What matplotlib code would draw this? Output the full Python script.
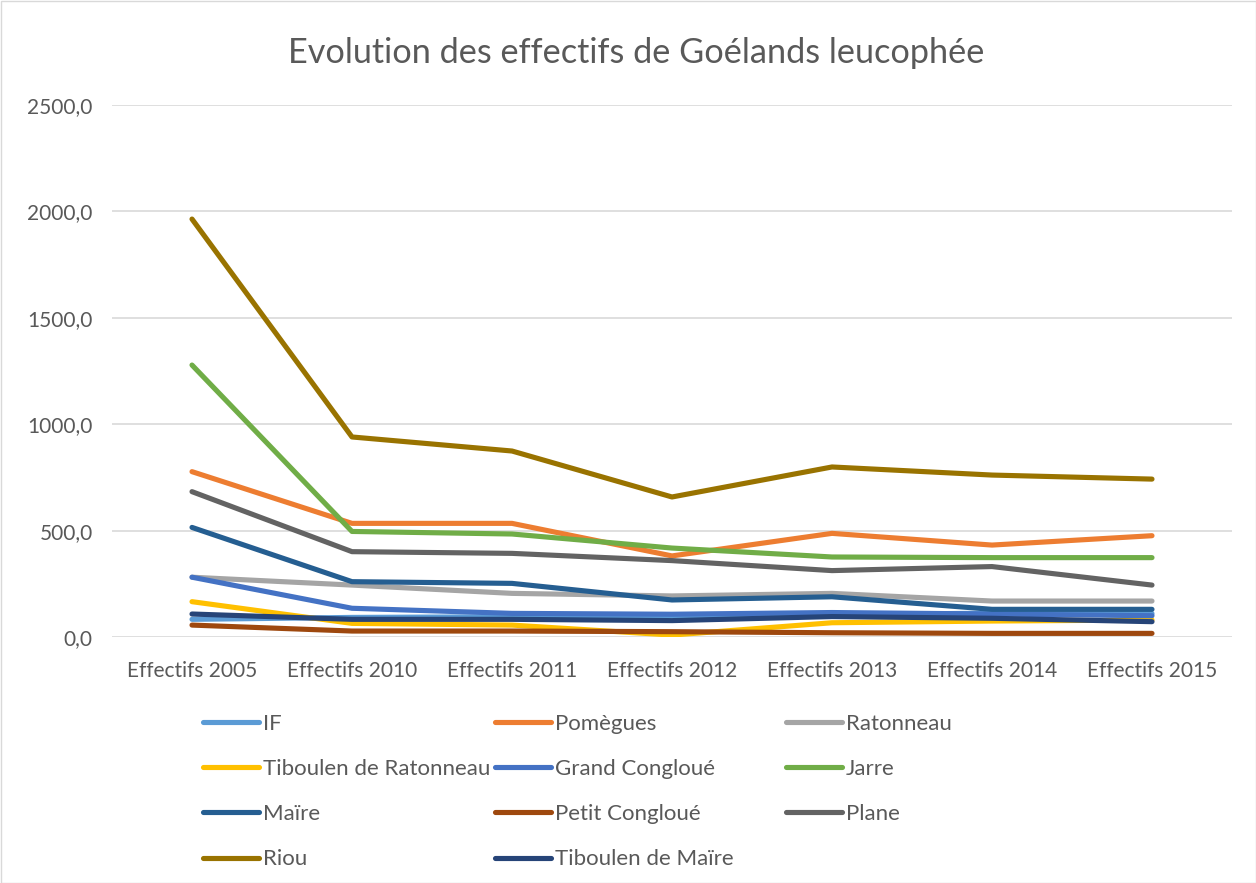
import matplotlib
matplotlib.use("Agg")
import matplotlib.pyplot as plt
from matplotlib.patches import Rectangle

categories = ["Effectifs 2005", "Effectifs 2010", "Effectifs 2011", "Effectifs 2012",
              "Effectifs 2013", "Effectifs 2014", "Effectifs 2015"]

series_names = ["IF", "Pomègues", "Ratonneau", "Tiboulen de Ratonneau", "Grand Congloué",
                "Jarre", "Maïre", "Petit Congloué", "Plane", "Riou", "Tiboulen de Maïre"]

IF = [83, 92, 95, 100, 105, 112, 110]
pomegues = [777, 534, 534, 381, 487, 432, 476]
ratonneau = [281, 244, 205, 193, 205, 169, 169]
tiboulen_ratonneau = [166, 64, 56, 9, 67, 75, 80]
grand_congloue = [281, 135, 111, 107, 115, 108, 100]
jarre = [1278, 496, 484, 418, 376, 373, 373]
maire = [515, 260, 252, 174, 189, 130, 130]
petit_congloue = [56, 28, 28, 25, 20, 17, 17]
plane = [683, 401, 393, 359, 312, 331, 244]
riou = [1964, 940, 874, 658, 799, 761, 742]
tiboulen_maire = [108, 83, 83, 77, 96, 88, 72]

values = [IF, pomegues, ratonneau, tiboulen_ratonneau, grand_congloue, jarre, maire,
          petit_congloue, plane, riou, tiboulen_maire]

colors = ["#5B9BD5", "#ED7D31", "#A5A5A5", "#FFC000", "#4472C4", "#70AD47",
          "#255E91", "#9E480E", "#636363", "#997300", "#264478"]

yticks = [0, 500, 1000, 1500, 2000, 2500]

plt.rcParams['font.family'] = ['Lato', 'DejaVu Sans']

W, H = 1256, 883
fig = plt.figure(figsize=(W / 100, H / 100), dpi=100)
ax = fig.add_axes([112 / W, 1 - 637 / H, (1232 - 112) / W, (637 - 105) / H])

xs = list(range(len(categories)))
handles = []
for name, vals, c in zip(series_names, values, colors):
    h, = ax.plot(xs, vals, color=c, lw=3.7, solid_capstyle='round',
                 solid_joinstyle='round', label=name)
    handles.append(h)

ax.set_xlim(-0.5, len(categories) - 0.5)
ax.set_ylim(0, 2500)
ax.set_yticks(yticks)
ax.set_yticklabels([f"{v:.1f}".replace('.', ',') for v in yticks])
ax.set_xticks(xs)
ax.set_xticklabels(categories)
ax.tick_params(axis='both', length=0, labelsize=15, labelcolor='#595959')
ax.tick_params(axis='y', pad=14)
ax.tick_params(axis='x', pad=17)
ax.grid(axis='y', color='#D9D9D9', lw=1.2)
ax.set_axisbelow(True)
for s in ax.spines.values():
    s.set_visible(False)

fig.text(636 / W, 1 - 53 / H, "Evolution des effectifs de Goélands leucophée",
         ha='center', va='center', fontsize=24.7, color='#595959')

col_items = [[0, 3, 6, 9], [1, 4, 7, 10], [2, 5, 8]]
col_x = [203, 495, 786]
for items, cx in zip(col_items, col_x):
    leg = fig.legend([handles[i] for i in items], [series_names[i] for i in items],
                     ncol=1, loc='upper left', bbox_to_anchor=(cx / W, 1 - 714 / H),
                     frameon=False, fontsize=16, handlelength=2.5, handletextpad=0.2,
                     labelspacing=1.13, borderpad=0, borderaxespad=0)
    for t in leg.get_texts():
        t.set_color('#595959')
    for ln in leg.get_lines():
        ln.set_linewidth(3.7)
        ln.set_solid_capstyle('round')

fig.patches.append(Rectangle((0.5 / W, 0.5 / H), 1 - 1 / W, 1 - 1 / H, transform=fig.transFigure,
                             fill=False, edgecolor='#D9D9D9', lw=1))

fig.savefig("out.png", dpi=100)
